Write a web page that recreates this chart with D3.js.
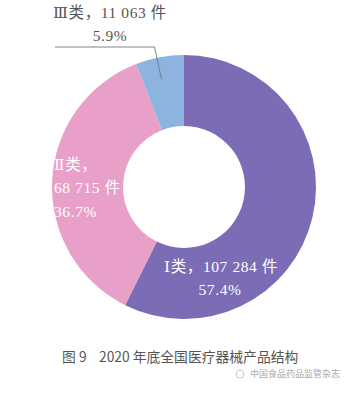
<!DOCTYPE html>
<html>
<head>
<meta charset="utf-8">
<script src="https://cdn.jsdelivr.net/npm/d3@7"></script>
<style>
  html, body { margin: 0; padding: 0; background: #fff; }
  svg { display: block; }
</style>
</head>
<body>
<svg id="chart" width="348" height="400"></svg>
<script>
// 2020 年底全国医疗器械产品结构 (注册/备案件数)
const categories = ["Ⅰ类", "Ⅱ类", "Ⅲ类"];
const counts = [107284, 68715, 11063];
const countLabels = ["107 284 件", "68 715 件", "11 063 件"];
const percentLabels = ["57.4%", "36.7%", "5.9%"];
const colors = ["#7b6cb5", "#e8a0c8", "#8cb4de"];

const svg = d3.select("#chart");
const cx = 184, cy = 187, outerR = 132, innerR = 61;

const pie = d3.pie().sort(null).value(d => d.value);
const arcs = pie(categories.map((c, i) => ({ name: c, value: counts[i], color: colors[i] })));
const arc = d3.arc().innerRadius(innerR).outerRadius(outerR);

const g = svg.append("g").attr("transform", `translate(${cx},${cy})`);
g.selectAll("path.slice")
  .data(arcs)
  .join("path")
  .attr("class", "slice")
  .attr("d", arc)
  .attr("fill", d => d.data.color);

const serif = "'Liberation Serif', 'DejaVu Serif', 'Noto Sans CJK SC', serif";

// Ⅰ类 label inside the purple band
const lab1 = svg.append("text")
  .attr("font-family", serif).attr("font-size", 15.5).attr("fill", "#fff")
  .attr("text-anchor", "middle").attr("letter-spacing", 0.6);
lab1.append("tspan").attr("x", 221).attr("y", 272).text(`${categories[0]}，${countLabels[0]}`);
lab1.append("tspan").attr("x", 220).attr("y", 295).text(percentLabels[0]);

// Ⅱ类 label inside the pink band
const lab2 = svg.append("text")
  .attr("font-family", serif).attr("font-size", 15.5).attr("fill", "#fff")
  .attr("text-anchor", "start").attr("letter-spacing", 0.6);
lab2.append("tspan").attr("x", 54).attr("y", 170).text(`${categories[1]}，`);
lab2.append("tspan").attr("x", 54).attr("y", 193).text(countLabels[1]);
lab2.append("tspan").attr("x", 54).attr("y", 217).text(percentLabels[1]);

// Ⅲ类 label outside, with leader line to the blue slice
const a3 = arcs[2];
const mid3 = (a3.startAngle + a3.endAngle) / 2;
const p0 = [cx + Math.sin(mid3 - 0.02) * (outerR - 22), cy - Math.cos(mid3 - 0.02) * (outerR - 22)];
const elbow = [p0[0] - 7, 47];
const lineEnd = [55, 47];
svg.append("polyline")
  .attr("points", [p0, elbow, lineEnd].map(p => p.join(",")).join(" "))
  .attr("fill", "none").attr("stroke", "#777").attr("stroke-width", 0.9);

const lab3 = svg.append("text")
  .attr("font-family", serif).attr("font-size", 15.5).attr("fill", "#555")
  .attr("text-anchor", "middle").attr("letter-spacing", 0.6);
lab3.append("tspan").attr("x", 110).attr("y", 18).text(`${categories[2]}，${countLabels[2]}`);
lab3.append("tspan").attr("x", 110).attr("y", 41).text(percentLabels[2]);

// Caption
const cap = svg.append("text")
  .attr("y", 362)
  .attr("font-family", "'Noto Sans CJK SC', sans-serif")
  .attr("font-size", 13.8).attr("fill", "#555");
cap.append("tspan").attr("x", 62).text("图 9");
cap.append("tspan").attr("x", 99).text("2020 年底全国医疗器械产品结构");

// Account mark
svg.append("text")
  .attr("x", 250).attr("y", 377)
  .attr("font-family", "'Noto Sans CJK SC', sans-serif")
  .attr("font-size", 9).attr("fill", "#aaa")
  .text("中国食品药品监管杂志");
svg.append("circle").attr("cx", 240).attr("cy", 374).attr("r", 4)
  .attr("fill", "none").attr("stroke", "#ccc").attr("stroke-width", 1);
</script>
</body>
</html>
